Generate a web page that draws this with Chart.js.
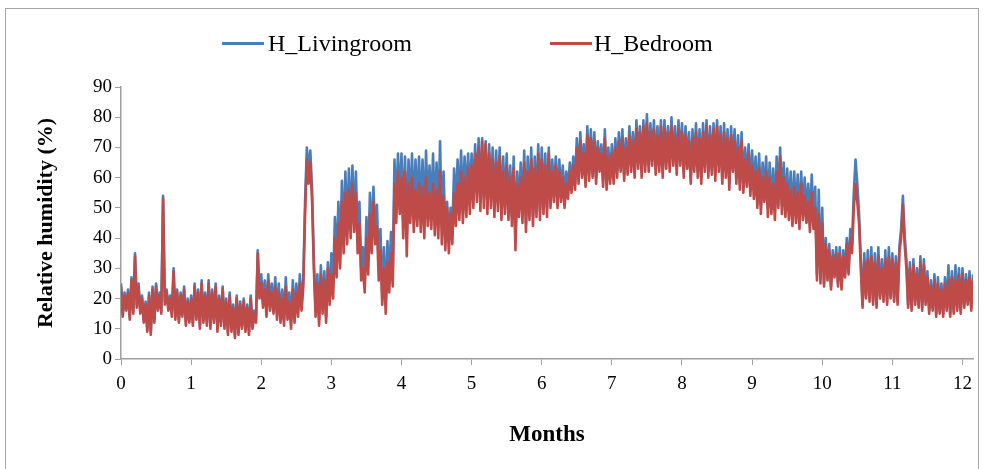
<!DOCTYPE html>
<html>
<head>
<meta charset="utf-8">
<script src="https://cdn.jsdelivr.net/npm/chart.js@4.4.1/dist/chart.umd.min.js"></script>
<style>
  body { margin: 0; background: #fff; }
  #wrap { position: relative; width: 986px; height: 469px; }
  #frame { position: absolute; left: 5px; top: 8px; width: 974px; height: 470px; border: 1px solid #a6a6a6; box-sizing: border-box; }
  .leg { position: absolute; top: 28px; font-family: "Liberation Serif", serif; font-size: 24px; color: #000; line-height: 30px; white-space: nowrap; }
  .leg i { position: absolute; top: 14px; height: 3px; width: 42px; }
</style>
</head>
<body>
<div id="wrap">
  <div id="frame"></div>
  <canvas id="chart" width="986" height="469"></canvas>
  <div class="leg" style="left:222px"><i style="left:0;background:#4a7ebb"></i><span style="margin-left:46px">H_Livingroom</span></div>
  <div class="leg" style="left:550px"><i style="left:0;background:#be4b48"></i><span style="margin-left:44px">H_Bedroom</span></div>
</div>
<script>
// 상대습도 (%) - 0.025 개월 간격, 한 줄 = 0.25 개월
var livingroom = [
  25,15,22,17,23,14,27,16,35,18,
  25,16,21,13,19,10,22,9,24,13,
  25,17,22,16,54,19,23,17,21,15,
  30,14,23,13,22,15,24,12,20,13,
  21,12,25,14,23,11,26,13,22,12,
  26,11,23,13,25,10,21,12,24,11,
  20,9,22,10,18,8,21,9,19,11,
  20,10,18,9,21,11,16,13,36,22,
  28,19,26,16,28,18,25,17,27,15,
  25,14,23,13,27,15,22,12,26,14,
  25,16,28,18,27,52,70,62,69,56,
  33,16,28,13,31,17,29,14,32,20,
  35,24,47,31,52,34,59,39,62,42,
  63,44,64,46,62,39,52,30,37,25,
  47,32,55,39,57,42,51,30,43,21,
  37,18,39,26,42,28,66,50,68,52,
  68,46,67,40,66,51,68,48,66,50,
  67,48,66,46,69,50,64,49,68,47,
  65,46,72,44,62,42,52,40,50,42,
  63,50,66,52,69,51,67,53,68,54,
  68,53,71,55,73,52,73,53,72,51,
  71,53,70,50,69,52,70,49,67,51,
  68,49,64,47,67,39,62,50,65,48,
  69,45,67,49,70,47,67,50,71,49,
  70,51,68,50,70,53,66,55,67,53,
  66,55,64,53,62,56,65,58,67,58,
  73,60,75,62,71,59,77,61,76,62,
  75,60,72,64,71,59,76,58,70,60,
  71,60,73,62,75,64,76,61,73,63,
  77,64,75,62,79,65,77,62,79,64,
  81,64,78,66,79,63,77,64,79,62,
  79,65,77,64,80,66,77,63,79,66,
  78,62,77,65,75,60,76,64,78,62,
  76,60,78,64,79,62,77,63,78,61,
  79,64,77,60,78,62,76,58,77,64,
  76,60,74,58,75,57,70,59,71,56,
  69,56,67,53,68,51,65,55,67,50,
  65,51,63,49,67,53,70,51,65,50,
  63,49,62,47,62,48,61,46,62,49,
  60,48,58,45,61,46,57,28,56,27,
  50,25,40,27,38,24,36,28,37,25,
  37,24,36,28,40,29,43,38,55,66,
  58,48,33,18,35,21,36,20,37,19,
  35,18,37,21,33,20,36,19,37,21,
  35,20,34,19,37,43,54,41,33,18,
  32,17,33,19,30,18,34,17,33,19,
  29,16,26,17,28,15,27,16,25,15,
  27,17,31,15,29,16,31,17,30,16,
  30,18,28,19,29,17,28
];
var bedroom = [
  24,14,21,16,22,13,26,15,34,17,
  24,15,20,12,18,9,21,8,23,12,
  24,16,21,15,53,18,22,16,20,14,
  29,13,22,12,21,14,23,11,19,12,
  20,11,24,13,22,10,25,12,21,11,
  25,10,22,12,24,9,20,11,23,10,
  19,8,21,9,17,7,20,8,18,10,
  19,9,17,8,20,10,15,12,35,20,
  25,17,23,14,26,16,22,15,24,13,
  22,12,20,11,24,13,19,10,23,12,
  22,14,25,16,24,48,66,58,65,52,
  30,14,25,11,28,15,26,12,30,18,
  28,20,40,27,45,30,52,35,55,38,
  56,40,58,42,55,35,45,26,30,22,
  40,28,48,35,52,38,44,26,36,18,
  30,15,32,22,35,24,58,45,62,48,
  60,40,62,34,58,45,60,42,56,44,
  58,42,57,40,60,44,55,43,58,41,
  56,40,62,38,54,36,50,35,48,38,
  55,44,58,46,62,45,60,47,63,48,
  64,50,68,52,70,49,72,50,71,48,
  68,50,66,47,65,49,67,46,62,48,
  64,46,60,44,63,36,58,47,60,45,
  65,42,62,46,66,44,63,47,68,46,
  66,48,64,47,68,50,62,52,64,50,
  62,52,60,50,58,53,62,55,64,56,
  70,58,72,60,68,57,74,59,73,60,
  72,58,70,62,68,57,73,56,67,58,
  68,58,70,60,72,62,73,59,70,61,
  74,62,72,60,76,63,75,60,77,62,
  78,62,75,64,76,61,74,62,77,60,
  76,63,75,62,77,64,74,61,76,64,
  75,60,74,63,72,58,73,62,75,60,
  73,58,75,62,77,60,74,61,76,59,
  77,62,74,58,75,60,73,56,74,62,
  72,58,70,56,72,55,66,57,68,54,
  64,53,62,50,63,48,60,52,62,47,
  60,48,58,46,62,50,67,48,60,47,
  58,46,56,44,57,45,55,43,58,46,
  54,45,52,42,55,43,50,26,48,25,
  45,24,38,26,36,23,34,27,35,24,
  35,23,34,27,38,28,40,35,50,58,
  52,45,30,17,32,20,33,19,34,18,
  32,17,34,20,30,19,33,18,34,20,
  33,19,32,18,35,40,51,38,30,17,
  30,16,31,18,28,17,32,16,31,18,
  27,15,24,16,26,14,25,15,23,14,
  25,16,26,14,27,15,26,16,28,15,
  28,17,26,18,27,16,26
];
var step = 0.025;
var months = bedroom.map(function(v, i){ return i * step; });
var xTicks = [0,1,2,3,4,5,6,7,8,9,10,11,12];
var yTicks = [0,10,20,30,40,50,60,70,80,90];

function pts(arr){
  return arr.map(function(v, i){ return {x: months[i], y: v}; });
}

var serif = "'Liberation Serif', 'Times New Roman', serif";
var axisColor = "#a0a0a0";

new Chart(document.getElementById("chart"), {
  type: 'line',
  data: {
    datasets: [
      {
        label: "H_Livingroom",
        data: pts(livingroom),
        borderColor: "#4a7ebb",
        borderWidth: 2.6,
        borderJoinStyle: 'round',
        pointRadius: 0,
        tension: 0,
        order: 1
      }, {
        label: "H_Bedroom",
        data: pts(bedroom),
        borderColor: "#be4b48",
        borderWidth: 2.6,
        borderJoinStyle: 'round',
        pointRadius: 0,
        tension: 0,
        order: 0
      }
    ]
  },
  options: {
    responsive: false,
    animation: false,
    layout: { padding: { left: 33, top: 87, right: 13, bottom: 14 } },
    plugins: { legend: { display: false }, tooltip: { enabled: false } },
    scales: {
      x: {
        type: 'linear',
        min: 0,
        max: 12.15,
        afterBuildTicks: function(axis){
          axis.ticks = xTicks.map(function(v){ return {value: v}; });
        },
        afterFit: function(scale){ scale.height = 96; },
        grid: { drawOnChartArea: false, color: axisColor, tickLength: 6 },
        border: { color: axisColor, width: 1.5 },
        ticks: { color: "#000", font: { family: serif, size: 19 }, padding: 8, maxRotation: 0 },
        title: { display: true, text: "Months", color: "#000", font: { family: serif, size: 23, weight: 'bold' }, padding: { top: 0, bottom: 6 } }
      },
      y: {
        min: 0,
        max: 90,
        afterBuildTicks: function(axis){
          axis.ticks = yTicks.map(function(v){ return {value: v}; });
        },
        afterFit: function(scale){ scale.width = 88; },
        grid: { drawOnChartArea: false, color: axisColor, tickLength: 6 },
        border: { color: axisColor, width: 1.5 },
        ticks: { color: "#000", font: { family: serif, size: 19 }, padding: 3 },
        title: { display: true, text: "Relative humidity (%)", color: "#000", font: { family: serif, size: 22, weight: 'bold' }, padding: { top: 0, bottom: 2 } }
      }
    }
  }
});
</script>
</body>
</html>
